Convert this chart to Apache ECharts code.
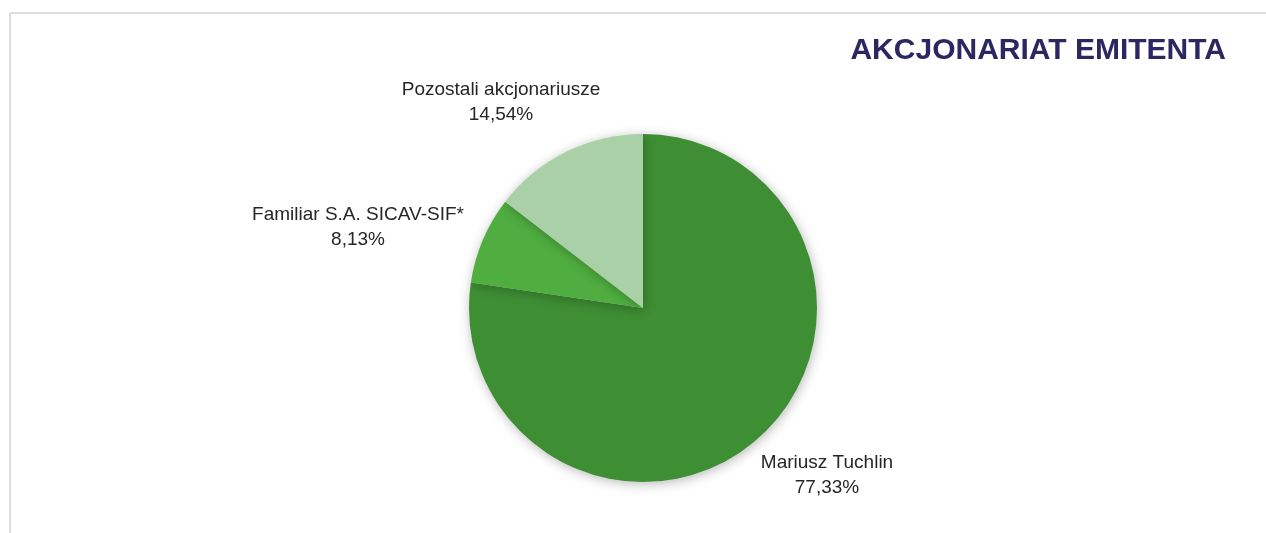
<!DOCTYPE html>
<html><head><meta charset="utf-8">
<script src="https://cdn.jsdelivr.net/npm/echarts@6/dist/echarts.min.js"></script>
<style>html,body{margin:0;padding:0;background:#fff}#c{width:1266px;height:533px}</style>
</head><body><div id="c"></div>
<script>
const categories = ['Mariusz Tuchlin', 'Familiar S.A. SICAV-SIF*', 'Pozostali akcjonariusze'];
const values = [77.33, 8.13, 14.54];
const colors = ['#3e8f34', '#4fae3f', '#a9d0a6'];
const labelPos = [[827, 475], [358, 227], [501, 102]];

const chart = echarts.init(document.getElementById('c'));
chart.setOption({
  animation: false,
  title: {
    text: 'AKCJONARIAT EMITENTA',
    right: 35, top: 31,
    textStyle: {fontFamily: 'Liberation Sans', fontWeight: 'bold', fontSize: 30, color: '#2b2760'}
  },
  graphic: [
    {type: 'line', shape: {x1: 10, y1: 13, x2: 1266, y2: 13}, style: {stroke: '#dedede', lineWidth: 2}},
    {type: 'line', shape: {x1: 10, y1: 13, x2: 10, y2: 533}, style: {stroke: '#dedede', lineWidth: 2}}
  ],
  series: [{
    type: 'pie',
    center: [643, 308],
    radius: 174,
    startAngle: 90,
    clockwise: true,
    data: categories.map((n, i) => ({name: n, value: values[i], itemStyle: {color: colors[i]}})),
    itemStyle: {shadowBlur: 12, shadowColor: 'rgba(0,0,0,0.28)', shadowOffsetX: 1, shadowOffsetY: 2},
    label: {
      show: true,
      position: 'outside',
      formatter: p => p.name + '\n' + p.value.toFixed(2).replace('.', ',') + '%',
      fontFamily: 'Liberation Sans', fontSize: 19, color: '#262626', align: 'center', lineHeight: 25
    },
    labelLine: {show: false},
    labelLayout: p => ({x: labelPos[p.dataIndex][0], y: labelPos[p.dataIndex][1], align: 'center', verticalAlign: 'middle'})
  }]
});
</script></body></html>
